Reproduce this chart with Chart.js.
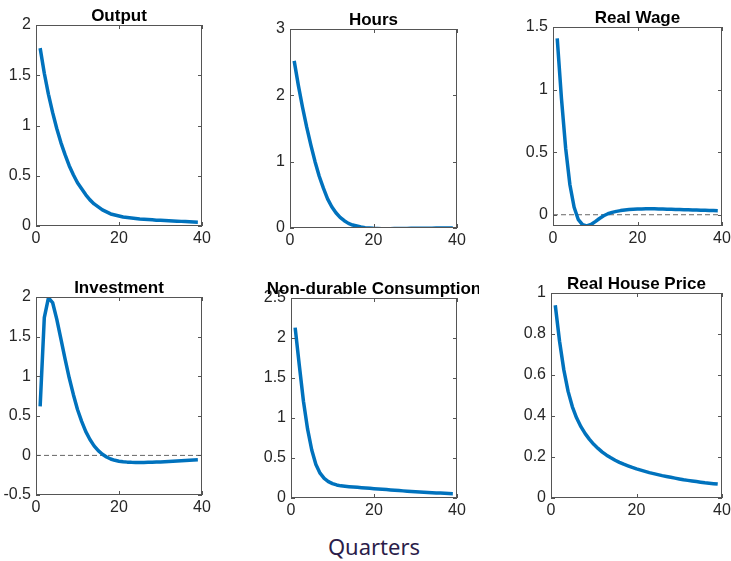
<!DOCTYPE html>
<html>
<head>
<meta charset="utf-8">
<script src="https://cdn.jsdelivr.net/npm/chart.js@4.4.1/dist/chart.umd.min.js"></script>
<style>
	body { margin: 0; width: 731px; height: 561px; overflow: hidden; background: #fff; position: relative; }
	canvas { position: absolute; }
	#xlabel { position: absolute; left: 0; width: 748px; top: 531px; text-align: center; font: 22px "Noto Sans"; color: #2b1d4a; }
</style>
</head>
<body>
<canvas id="c0"></canvas>
<canvas id="c1"></canvas>
<canvas id="c2"></canvas>
<canvas id="c3"></canvas>
<canvas id="c4"></canvas>
<canvas id="c5"></canvas>
<div id="xlabel">Quarters</div>

<script>
// quarters after the shock
var quarters = [1, 2, 3, 4, 5, 6, 7, 8, 9, 10, 11, 12, 13, 14, 15, 16, 17, 18, 19, 20,
	21, 22, 23, 24, 25, 26, 27, 28, 29, 30, 31, 32, 33, 34, 35, 36, 37, 38, 39];

var output = [1.77, 1.52, 1.31, 1.13, 0.97, 0.83, 0.71, 0.60, 0.51, 0.43,
	0.37, 0.31, 0.26, 0.22, 0.19, 0.16, 0.14, 0.12, 0.11, 0.10,
	0.09, 0.085, 0.08, 0.075, 0.07, 0.067, 0.064, 0.061, 0.058, 0.056,
	0.054, 0.052, 0.05, 0.048, 0.046, 0.044, 0.042, 0.04, 0.038];

var hours = [2.52, 2.15, 1.82, 1.52, 1.25, 1.0, 0.78, 0.60, 0.44, 0.32,
	0.23, 0.16, 0.11, 0.07, 0.045, 0.03, 0.015, 0.005, 0, -0.005,
	-0.008, -0.01, -0.01, -0.01, -0.009, -0.008, -0.007, -0.006, -0.005, -0.004,
	-0.003, -0.003, -0.002, -0.002, -0.001, -0.001, 0, 0, 0];

var realWage = [1.41, 0.93, 0.53, 0.24, 0.06, -0.04, -0.08, -0.09, -0.078, -0.055,
	-0.03, -0.008, 0.008, 0.019, 0.027, 0.033, 0.038, 0.041, 0.043, 0.045,
	0.046, 0.047, 0.047, 0.047, 0.046, 0.045, 0.044, 0.043, 0.042, 0.041,
	0.04, 0.039, 0.038, 0.037, 0.036, 0.035, 0.034, 0.033, 0.032];

var investment = [0.62, 1.74, 1.99, 1.93, 1.72, 1.47, 1.22, 0.98, 0.77, 0.58,
	0.43, 0.30, 0.20, 0.12, 0.06, 0.015, -0.02, -0.045, -0.062, -0.073,
	-0.08, -0.085, -0.088, -0.089, -0.09, -0.089, -0.088, -0.086, -0.084, -0.082,
	-0.08, -0.077, -0.074, -0.071, -0.068, -0.065, -0.062, -0.059, -0.056];

var consumption = [2.13, 1.66, 1.21, 0.86, 0.60, 0.42, 0.31, 0.245, 0.205, 0.18,
	0.163, 0.152, 0.146, 0.141, 0.137, 0.133, 0.129, 0.125, 0.121, 0.117,
	0.113, 0.109, 0.105, 0.101, 0.097, 0.093, 0.089, 0.085, 0.082, 0.079,
	0.076, 0.073, 0.07, 0.067, 0.064, 0.061, 0.058, 0.056, 0.054];

var housePrice = [0.94, 0.765, 0.625, 0.52, 0.445, 0.39, 0.348, 0.314, 0.286, 0.262,
	0.242, 0.224, 0.209, 0.196, 0.184, 0.174, 0.165, 0.157, 0.149, 0.142,
	0.136, 0.13, 0.124, 0.119, 0.114, 0.109, 0.105, 0.101, 0.097, 0.093,
	0.089, 0.086, 0.083, 0.08, 0.077, 0.074, 0.072, 0.07, 0.068];

var xTicks = [0, 20, 40];
var outputTicks = [0, 0.5, 1, 1.5, 2];
var hoursTicks = [0, 1, 2, 3];
var wageTicks = [0, 0.5, 1, 1.5];
var investmentTicks = [-0.5, 0, 0.5, 1, 1.5, 2];
var consumptionTicks = [0, 0.5, 1, 1.5, 2, 2.5];
var houseTicks = [0, 0.2, 0.4, 0.6, 0.8, 1];

// one entry per panel: series, y range and where its plot box sits on the page
var panels = [
	{ title: "Output", data: output, ticks: outputTicks, min: 0, max: 2, zero: false, l: 36, t: 25, r: 202, b: 226, pr: 14 },
	{ title: "Hours", data: hours, ticks: hoursTicks, min: 0, max: 3, zero: false, l: 290, t: 29, r: 457, b: 228, pr: 14 },
	{ title: "Real Wage", data: realWage, ticks: wageTicks, min: -0.09, max: 1.5, zero: true, l: 553, t: 27, r: 722, b: 226, pr: 14 },
	{ title: "Investment", data: investment, ticks: investmentTicks, min: -0.5, max: 2, zero: true, l: 36, t: 297, r: 202, b: 495, pr: 14 },
	{ title: "Non-durable Consumption", data: consumption, ticks: consumptionTicks, min: 0, max: 2.5, zero: false, l: 291, t: 298, r: 457, b: 498, pr: 22 },
	{ title: "Real House Price", data: housePrice, ticks: houseTicks, min: 0, max: 1, zero: false, l: 551, t: 293, r: 722, b: 498, pr: 14 }
];

var YW = 40, PT = 30, XH = 24, PB = 2;
var FONT = "'Liberation Sans', Arial, sans-serif";

/**
 * Draws the MATLAB style box with inward tick marks on all four sides
 */
var boxPlugin = {
	id: "box",
	afterDatasetsDraw(chart) {
		const ctx = chart.ctx;
		const a = chart.chartArea;
		const sx = chart.scales.x, sy = chart.scales.y;
		ctx.save();
		ctx.strokeStyle = "#555";
		ctx.lineWidth = 1;
		ctx.strokeRect(Math.round(a.left) + 0.5, Math.round(a.top) + 0.5, Math.round(a.width) - 1, Math.round(a.height) - 1);
		ctx.beginPath();
		sx.ticks.forEach(t => {
			const px = Math.round(sx.getPixelForValue(t.value)) + 0.5;
			ctx.moveTo(px, a.bottom); ctx.lineTo(px, a.bottom - 4);
			ctx.moveTo(px, a.top); ctx.lineTo(px, a.top + 4);
		});
		sy.ticks.forEach(t => {
			const py = Math.round(sy.getPixelForValue(t.value)) + 0.5;
			ctx.moveTo(a.left, py); ctx.lineTo(a.left + 4, py);
			ctx.moveTo(a.right, py); ctx.lineTo(a.right - 4, py);
		});
		ctx.stroke();
		ctx.restore();
	}
};

/**
 * Title centred over the plot box (can spill past it, like the original)
 */
var titlePlugin = {
	id: "panelTitle",
	afterDraw(chart, args, opts) {
		const ctx = chart.ctx;
		const a = chart.chartArea;
		ctx.save();
		ctx.font = "bold 17px " + FONT;
		ctx.fillStyle = "#000";
		ctx.textAlign = "center";
		ctx.textBaseline = "alphabetic";
		ctx.fillText(opts.text, (a.left + a.right) / 2, a.top - 4);
		ctx.restore();
	}
};

panels.forEach((p, i) => {
	const canvas = document.getElementById("c" + i);
	const w = (p.r - p.l) + YW + p.pr;
	const h = (p.b - p.t) + PT + XH + PB;
	canvas.width = w;
	canvas.height = h;
	canvas.style.width = w + "px";
	canvas.style.height = h + "px";
	canvas.style.left = (p.l - YW) + "px";
	canvas.style.top = (p.t - PT) + "px";

	var datasets = [{
		data: quarters.map((q, k) => ({ x: q, y: p.data[k] })),
		borderColor: "#0072BD",
		borderWidth: 3.5,
		borderJoinStyle: "round",
		pointRadius: 0,
		tension: 0
	}];
	if (p.zero) {
		datasets.push({
			data: [{ x: 0, y: 0 }, { x: 40, y: 0 }],
			borderColor: "#666",
			borderWidth: 1,
			borderDash: [5, 3],
			pointRadius: 0
		});
	}

	new Chart(canvas, {
		type: "line",
		data: { datasets: datasets },
		options: {
			responsive: false,
			animation: false,
			layout: { padding: { top: PT, right: p.pr, bottom: PB, left: 0 } },
			plugins: {
				legend: { display: false },
				tooltip: { enabled: false },
				panelTitle: { text: p.title }
			},
			scales: {
				x: {
					type: "linear",
					min: 0,
					max: 40,
					grid: { display: false, drawTicks: false },
					border: { display: false },
					afterBuildTicks: s => { s.ticks = xTicks.map(v => ({ value: v })); },
					afterFit: s => { s.height = XH; },
					ticks: {
						padding: 3,
						maxRotation: 0,
						color: "#262626",
						font: { family: FONT, size: 16 },
						callback: v => String(v)
					}
				},
				y: {
					type: "linear",
					min: p.min,
					max: p.max,
					grid: { display: false, drawTicks: false },
					border: { display: false },
					afterBuildTicks: s => { s.ticks = p.ticks.map(v => ({ value: v })); },
					afterFit: s => { s.width = YW; },
					ticks: {
						padding: 5,
						color: "#262626",
						font: { family: FONT, size: 16 },
						callback: v => String(v)
					}
				}
			}
		},
		plugins: [boxPlugin, titlePlugin]
	});
});
</script>
</body>
</html>
